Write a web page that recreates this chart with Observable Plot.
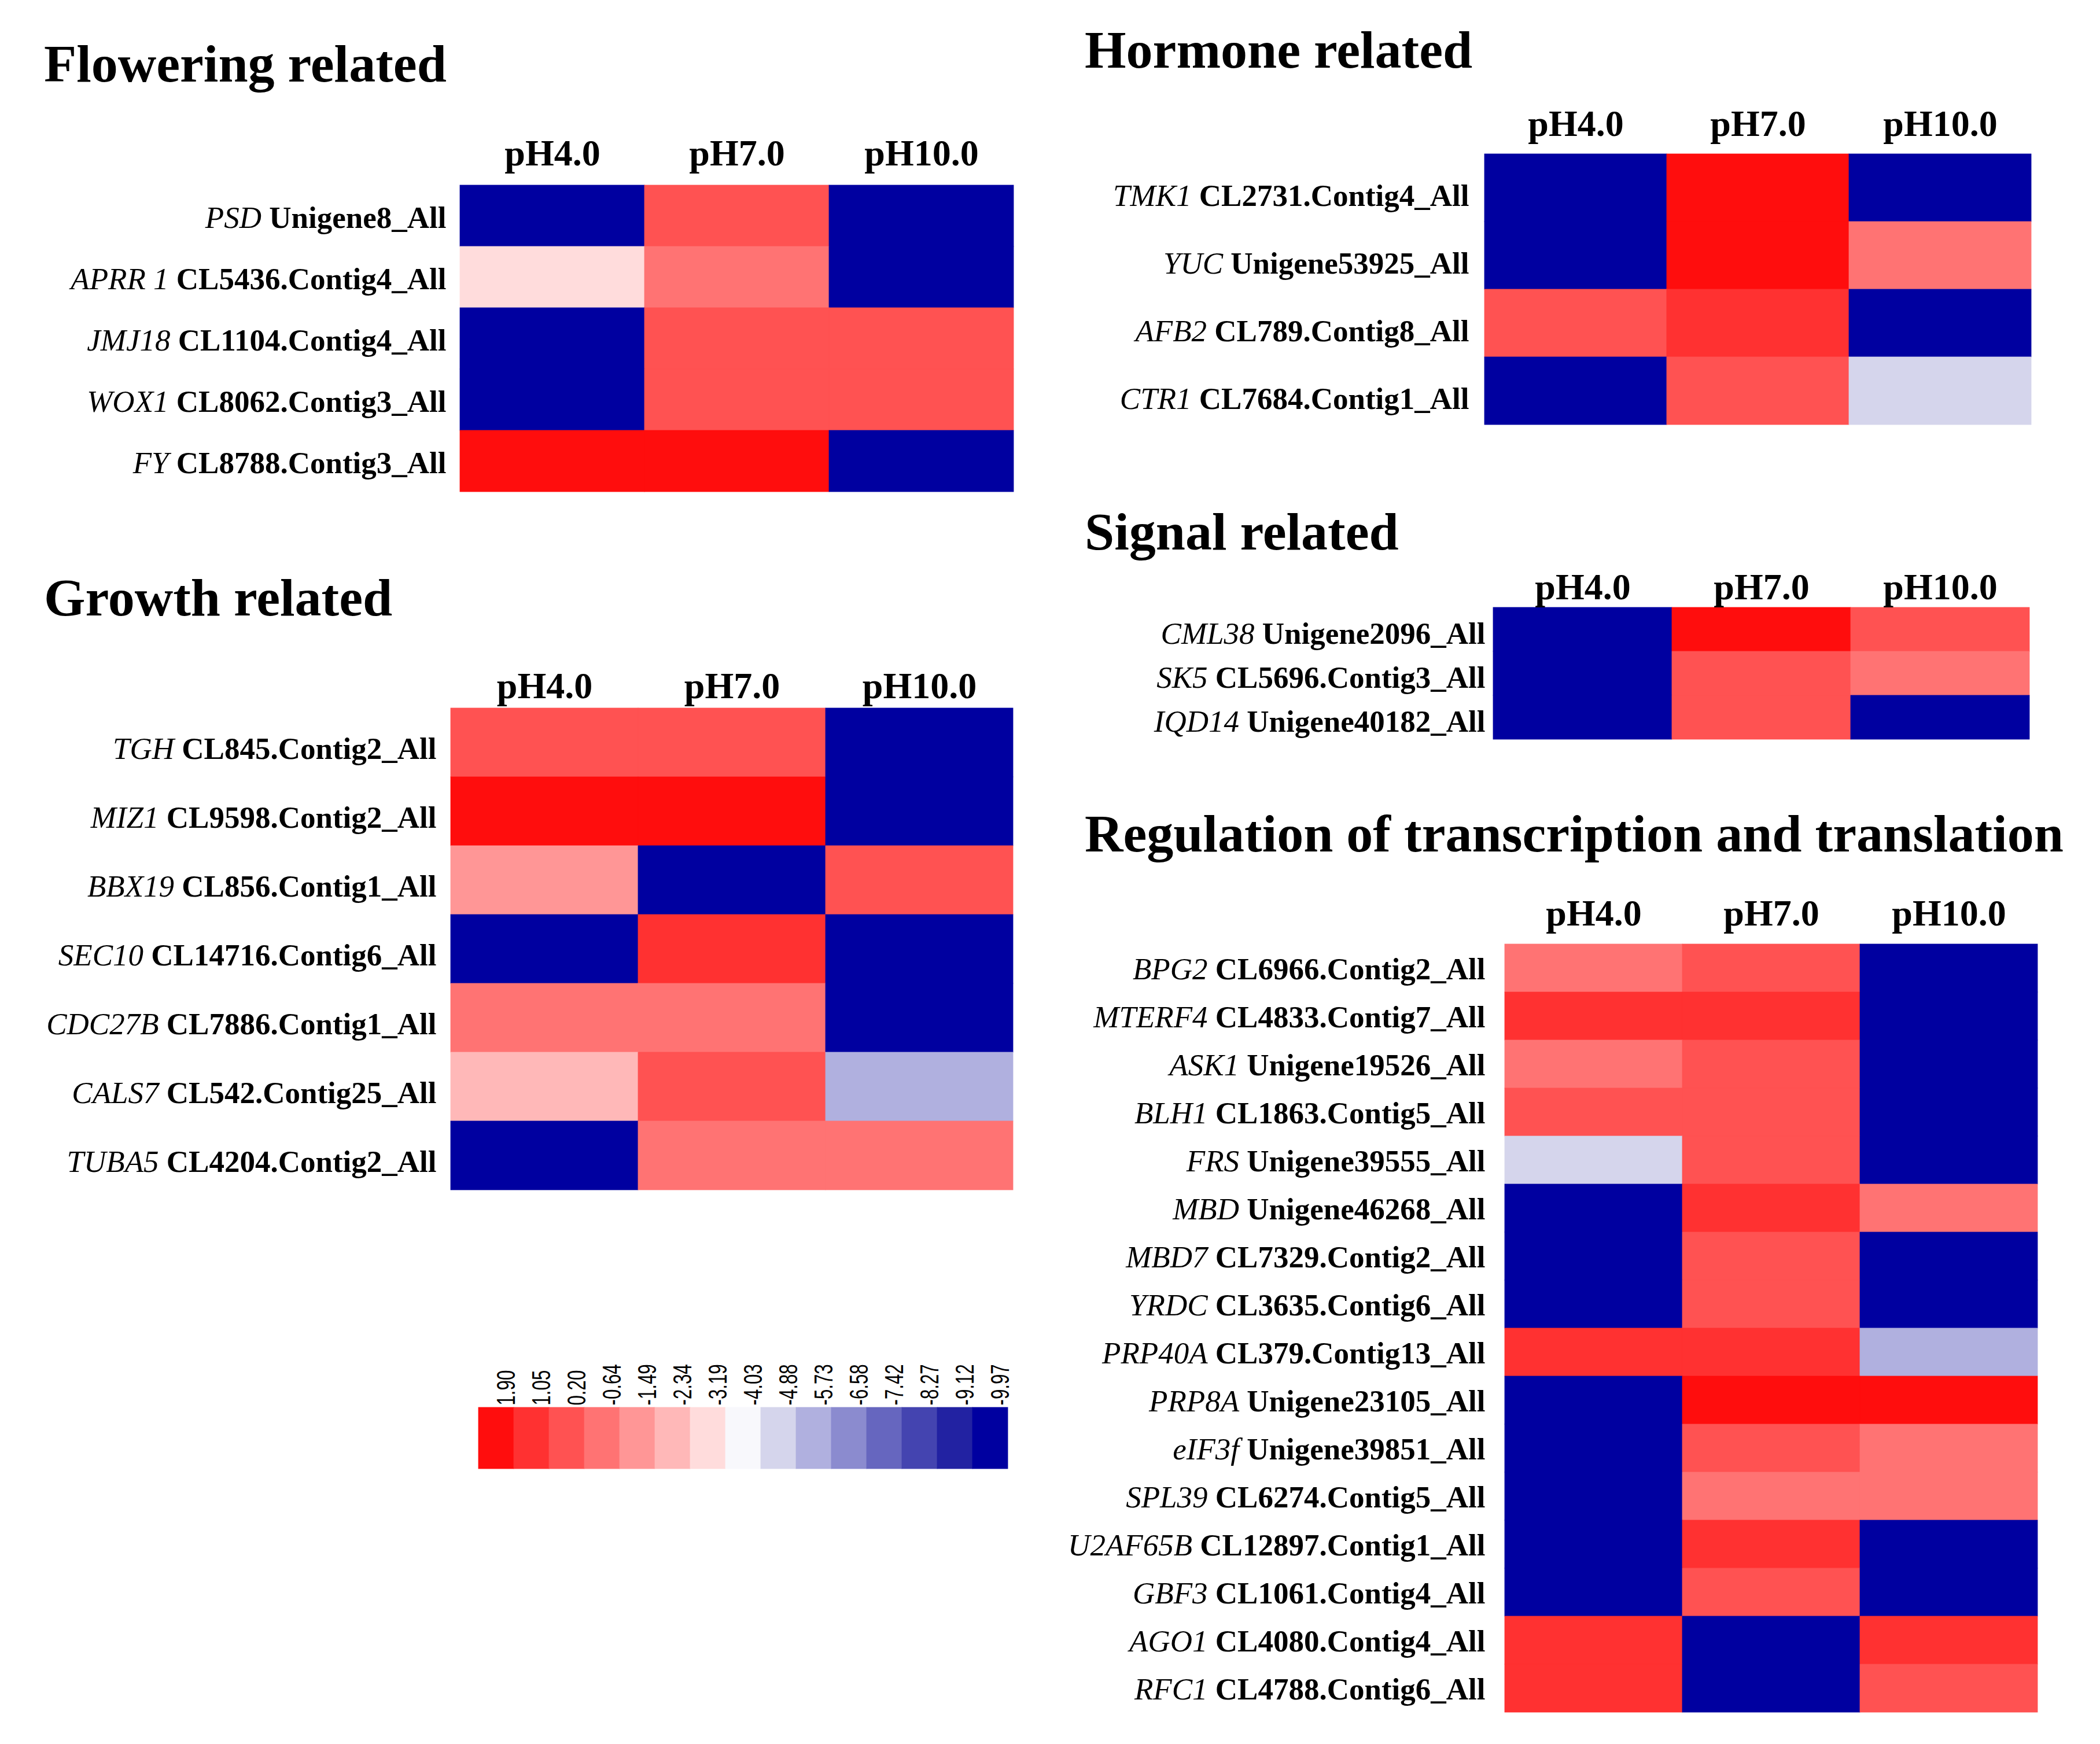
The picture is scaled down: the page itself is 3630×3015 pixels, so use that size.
<!DOCTYPE html>
<html><head><meta charset="utf-8">
<script src="https://cdn.jsdelivr.net/npm/d3@7"></script>
<script src="https://cdn.jsdelivr.net/npm/@observablehq/plot@0.6"></script>
<style>
html,body{margin:0;padding:0;background:#fff;}
#root{position:relative;width:3630px;height:3015px;background:#fff;overflow:hidden;}
#root > .panel{position:absolute;}
#titles{position:absolute;left:0;top:0;}
</style></head><body><div id="root"></div>
<script>
// ---------- data ----------
const phLevels = ["pH4.0", "pH7.0", "pH10.0"];
const legendValues = [1.90, 1.05, 0.20, -0.64, -1.49, -2.34, -3.19, -4.03, -4.88, -5.73, -6.58, -7.42, -8.27, -9.12, -9.97];
const legendColors = ["#ff0d0d", "#ff3131", "#ff5252", "#ff7373", "#ff9696", "#ffb8b8", "#ffdcdc", "#f8f8fc",
                      "#d5d5ec", "#b0b0df", "#8b8bcf", "#6666bf", "#4444b0", "#2222a2", "#0000a0"];

const floweringGenes = ["PSD", "APRR 1", "JMJ18", "WOX1", "FY"];
const floweringIds = ["Unigene8_All", "CL5436.Contig4_All", "CL1104.Contig4_All", "CL8062.Contig3_All", "CL8788.Contig3_All"];
const floweringPH4 = [-9.97, -3.19, -9.97, -9.97, 1.90];
const floweringPH7 = [0.20, -0.64, 0.20, 0.20, 1.90];
const floweringPH10 = [-9.97, -9.97, 0.20, 0.20, -9.97];

const hormoneGenes = ["TMK1", "YUC", "AFB2", "CTR1"];
const hormoneIds = ["CL2731.Contig4_All", "Unigene53925_All", "CL789.Contig8_All", "CL7684.Contig1_All"];
const hormonePH4 = [-9.97, -9.97, 0.20, -9.97];
const hormonePH7 = [1.90, 1.90, 1.05, 0.20];
const hormonePH10 = [-9.97, -0.64, -9.97, -4.88];

const signalGenes = ["CML38", "SK5", "IQD14"];
const signalIds = ["Unigene2096_All", "CL5696.Contig3_All", "Unigene40182_All"];
const signalPH4 = [-9.97, -9.97, -9.97];
const signalPH7 = [1.90, 0.20, 0.20];
const signalPH10 = [0.20, -0.64, -9.97];

const growthGenes = ["TGH", "MIZ1", "BBX19", "SEC10", "CDC27B", "CALS7", "TUBA5"];
const growthIds = ["CL845.Contig2_All", "CL9598.Contig2_All", "CL856.Contig1_All", "CL14716.Contig6_All", "CL7886.Contig1_All", "CL542.Contig25_All", "CL4204.Contig2_All"];
const growthPH4 = [0.20, 1.90, -1.49, -9.97, -0.64, -2.34, -9.97];
const growthPH7 = [0.20, 1.90, -9.97, 1.05, -0.64, 0.20, -0.64];
const growthPH10 = [-9.97, -9.97, 0.20, -9.97, -9.97, -5.73, -0.64];

const regulationGenes = ["BPG2", "MTERF4", "ASK1", "BLH1", "FRS", "MBD", "MBD7", "YRDC", "PRP40A", "PRP8A", "eIF3f", "SPL39", "U2AF65B", "GBF3", "AGO1", "RFC1"];
const regulationIds = ["CL6966.Contig2_All", "CL4833.Contig7_All", "Unigene19526_All", "CL1863.Contig5_All", "Unigene39555_All", "Unigene46268_All", "CL7329.Contig2_All", "CL3635.Contig6_All", "CL379.Contig13_All", "Unigene23105_All", "Unigene39851_All", "CL6274.Contig5_All", "CL12897.Contig1_All", "CL1061.Contig4_All", "CL4080.Contig4_All", "CL4788.Contig6_All"];
const regulationPH4 = [-0.64, 1.05, -0.64, 0.20, -4.88, -9.97, -9.97, -9.97, 1.05, -9.97, -9.97, -9.97, -9.97, -9.97, 1.05, 1.05];
const regulationPH7 = [0.20, 1.05, 0.20, 0.20, 0.20, 1.05, 0.20, 0.20, 1.05, 1.90, 0.20, -0.64, 1.05, 0.20, -9.97, -9.97];
const regulationPH10 = [-9.97, -9.97, -9.97, -9.97, -9.97, -0.64, -9.97, -9.97, -5.73, 1.90, -0.64, -0.64, -9.97, -9.97, 1.05, 0.20];

const panelTitles = ["Flowering related", "Hormone related", "Signal related", "Growth related", "Regulation of transcription and translation"];

// ---------- layout ----------
const SERIF = "'Liberation Serif', 'Times New Roman', serif";
const root = document.getElementById("root");
const NS = "http://www.w3.org/2000/svg";

function heatmap(genes, ids, v4, v7, v10, lay) {
  const labels = genes.map((g, i) => g + " " + ids[i]);
  const lookup = new Map(labels.map((l, i) => [l, [genes[i], ids[i]]]));
  const cells = [];
  labels.forEach((l, i) => {
    cells.push({ph: phLevels[0], label: l, value: v4[i]});
    cells.push({ph: phLevels[1], label: l, value: v7[i]});
    cells.push({ph: phLevels[2], label: l, value: v10[i]});
  });
  const plot = Plot.plot({
    width: lay.x1 - lay.L + 12,
    height: lay.y1 - lay.T + 12,
    marginLeft: lay.x0 - lay.L,
    marginTop: lay.y0 - lay.T,
    marginRight: 12,
    marginBottom: 12,
    style: {fontFamily: SERIF, background: "transparent", color: "#000", overflow: "visible"},
    x: {type: "band", domain: phLevels, padding: 0, label: null},
    y: {type: "band", domain: labels, padding: 0, label: null},
    color: {type: "ordinal", domain: legendValues, range: legendColors},
    marks: [
      Plot.cell(cells, {x: "ph", y: "label", fill: "value", stroke: "value", strokeWidth: 0.8, inset: 0}),
      Plot.axisX({anchor: "top", tickSize: 0, tickPadding: lay.hp, fontSize: 64, fontWeight: "bold", label: null}),
      Plot.axisY({anchor: "left", tickSize: 0, tickPadding: lay.lp, dy: lay.dy, fontSize: 53, fontWeight: "bold", label: null})
    ]
  });
  plot.querySelectorAll('g[aria-label="y-axis tick label"] text').forEach(t => {
    const pair = lookup.get(t.textContent);
    if (!pair) return;
    t.textContent = "";
    t.setAttribute("style", "white-space:pre");
    const a = document.createElementNS(NS, "tspan");
    a.setAttribute("font-style", "italic");
    a.setAttribute("font-weight", "normal");
    a.textContent = pair[0];
    const b = document.createElementNS(NS, "tspan");
    b.textContent = " " + pair[1];
    t.appendChild(a); t.appendChild(b);
  });
  const div = document.createElement("div");
  div.className = "panel";
  div.style.left = lay.L + "px";
  div.style.top = lay.T + "px";
  div.appendChild(plot);
  root.appendChild(div);
}

// titles overlay
const tsvg = document.createElementNS(NS, "svg");
tsvg.setAttribute("id", "titles");
tsvg.setAttribute("width", 3630);
tsvg.setAttribute("height", 3015);
const titlePos = [[76, 141], [1875, 117], [1875, 950], [76, 1064], [1875, 1472]];
panelTitles.forEach((s, i) => {
  const t = document.createElementNS(NS, "text");
  t.setAttribute("x", titlePos[i][0]);
  t.setAttribute("y", titlePos[i][1]);
  t.setAttribute("font-family", SERIF);
  t.setAttribute("font-weight", "bold");
  t.setAttribute("font-size", 92);
  t.setAttribute("fill", "#000");
  t.textContent = s;
  tsvg.appendChild(t);
});
root.appendChild(tsvg);

heatmap(floweringGenes, floweringIds, floweringPH4, floweringPH7, floweringPH10,
  {L: 0, T: 180, x0: 794, x1: 1752, y0: 319, y1: 850, hp: 34, lp: 23, dy: 4});
heatmap(hormoneGenes, hormoneIds, hormonePH4, hormonePH7, hormonePH10,
  {L: 1850, T: 150, x0: 2565, x1: 3511, y0: 266, y1: 734, hp: 32, lp: 26, dy: 14});
heatmap(signalGenes, signalIds, signalPH4, signalPH7, signalPH10,
  {L: 1850, T: 970, x0: 2580, x1: 3509, y0: 1049, y1: 1278, hp: 14, lp: 13, dy: 8});
heatmap(growthGenes, growthIds, growthPH4, growthPH7, growthPH10,
  {L: 0, T: 1100, x0: 778, x1: 1751, y0: 1223, y1: 2058, hp: 17, lp: 24, dy: 11});
heatmap(regulationGenes, regulationIds, regulationPH4, regulationPH7, regulationPH10,
  {L: 1850, T: 1500, x0: 2601, x1: 3522, y0: 1625, y1: 2967, hp: 26, lp: 34, dy: 2});

// legend
{
  const L = 780, T = 2330, x0 = 821, x1 = 1747, y0 = 2433, y1 = 2539;
  const leg = Plot.plot({
    width: x1 - L + 12,
    height: y1 - T + 12,
    marginLeft: x0 - L,
    marginTop: y0 - T,
    marginRight: 12,
    marginBottom: 12,
    style: {background: "transparent", color: "#000", overflow: "visible"},
    x: {type: "band", domain: legendValues, padding: 0, axis: null},
    color: {type: "ordinal", domain: legendValues, range: legendColors},
    marks: [
      Plot.cell(legendValues, {x: d => d, fill: d => d, stroke: d => d, strokeWidth: 0.8, inset: 0}),
      Plot.text(legendValues, {x: d => d, frameAnchor: "top", text: d => d.toFixed(2), rotate: -90,
        textAnchor: "start", lineAnchor: "middle", dy: -4, dx: 18, fontSize: 44,
        fontFamily: "'Liberation Sans', Arial, sans-serif", fill: "#000"})
    ]
  });
  // condense the legend labels along their reading direction, as in the original
  leg.querySelectorAll('g[aria-label="text"] text').forEach(t => {
    const tr = t.getAttribute("transform") || "";
    t.setAttribute("transform", tr + " scale(0.71,1)");
  });
  const div = document.createElement("div");
  div.className = "panel";
  div.style.left = L + "px";
  div.style.top = T + "px";
  div.appendChild(leg);
  root.appendChild(div);
}
</script></body></html>
